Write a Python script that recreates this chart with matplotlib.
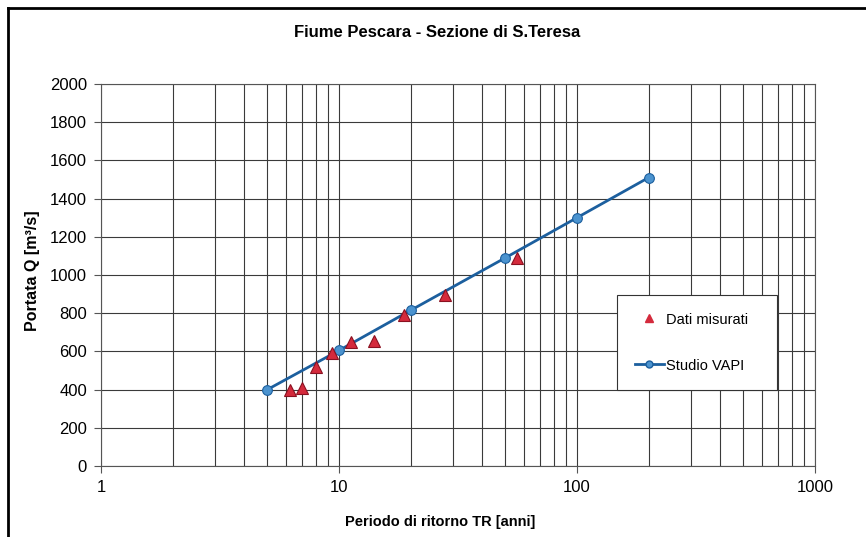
import numpy as np
import matplotlib.pyplot as plt
from matplotlib.lines import Line2D
from matplotlib.ticker import LogLocator, FixedLocator, NullFormatter

plt.rcParams['font.family'] = ['Liberation Sans', 'DejaVu Sans']

# osservazioni (posizioni di plotting TR = 56/m)
tr_mis = [6.22, 7.0, 8.0, 9.33, 11.2, 14.0, 18.67, 28.0, 56.0]
q_mis = [400, 410, 520, 590, 650, 655, 790, 895, 1090]

# curva di crescita VAPI
tr_vapi = [5, 10, 20, 50, 100, 200]
q_vapi = [400, 605, 815, 1090, 1300, 1510]

y_ticks = list(range(0, 2001, 200))
x_ticks = [1, 10, 100, 1000]
x_labels = ['1', '10', '100', '1000']

RED = '#d42a3c'
BLUE = '#1c5f9e'
LBLUE = '#4b93cf'

fig = plt.figure(figsize=(8.66, 5.37), dpi=100)
ax = fig.add_axes([0.1166, 0.1322, 0.8245, 0.7114])

ax.plot(tr_mis, q_mis, linestyle='none', marker='^', markersize=8,
        markerfacecolor=RED, markeredgecolor='#8a1020', markeredgewidth=0.8, zorder=4)
ax.plot(tr_vapi, q_vapi, color=BLUE, linewidth=2.0, marker='o', markersize=7,
        markerfacecolor=LBLUE, markeredgecolor=BLUE, markeredgewidth=0.8, zorder=3)

ax.set_xscale('log')
ax.set_xlim(1, 1000)
ax.set_ylim(0, 2000)
ax.xaxis.set_major_locator(FixedLocator(x_ticks))
ax.set_xticklabels(x_labels)
ax.xaxis.set_minor_locator(LogLocator(base=10, subs=np.arange(2, 10)))
ax.xaxis.set_minor_formatter(NullFormatter())
ax.set_yticks(y_ticks)

ax.grid(which='major', axis='both', color='#3a3a3a', linewidth=0.8)
ax.grid(which='minor', axis='x', color='#3a3a3a', linewidth=0.8)
ax.set_axisbelow(True)
for s in ax.spines.values():
    s.set_color('#555555')
    s.set_linewidth(0.8)

ax.tick_params(axis='both', which='major', direction='out', length=5, width=0.8,
               color='#555555', labelsize=12, pad=5)
ax.tick_params(axis='x', which='minor', length=0)

ax.set_xlabel('Periodo di ritorno TR [anni]', fontsize=10.5, fontweight='bold')
ax.xaxis.set_label_coords(0.475, -0.127)
ax.set_ylabel('Portata Q [m³/s]', fontsize=11.5, fontweight='bold')
ax.yaxis.set_label_coords(-0.085, 0.51)
fig.text(0.505, 0.940, 'Fiume Pescara - Sezione di S.Teresa', ha='center', va='center',
         fontsize=12, fontweight='bold')

# legenda con simboli ridotti
h_mis = Line2D([], [], linestyle='none', marker='^', markersize=6,
               markerfacecolor=RED, markeredgecolor=RED)
h_vapi = Line2D([], [], color=BLUE, linewidth=2.0, marker='o', markersize=5,
                markerfacecolor=LBLUE, markeredgecolor=BLUE)
leg = ax.legend([h_mis, h_vapi], ['Dati misurati', 'Studio VAPI'],
                loc='upper left', mode='expand',
                bbox_to_anchor=(617 / 866, 1 - 390 / 537, 160 / 866, 95 / 537),
                bbox_transform=fig.transFigure, fancybox=False, shadow=False,
                framealpha=1, edgecolor='#333333', fontsize=10.5,
                borderpad=1.2, labelspacing=2.2, handlelength=2.0,
                handletextpad=0.15, borderaxespad=0)
leg.get_frame().set_linewidth(0.8)

# cornice esterna del riquadro
fig.add_artist(Line2D([8 / 866, 8 / 866], [0, 1 - 8 / 537], transform=fig.transFigure,
                      color='black', linewidth=2))
fig.add_artist(Line2D([8 / 866, 1], [1 - 8 / 537, 1 - 8 / 537], transform=fig.transFigure,
                      color='black', linewidth=2))

fig.savefig('out.png', dpi=100)
